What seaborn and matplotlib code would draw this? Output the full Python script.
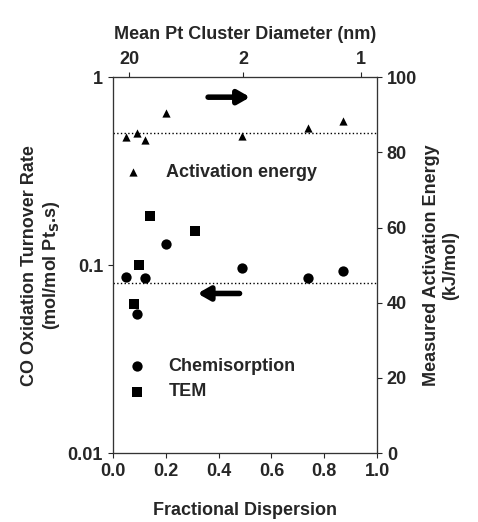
import numpy as np
import matplotlib
matplotlib.use("Agg")
import matplotlib.pyplot as plt
import seaborn as sns

sns.set_style("ticks")
plt.rcParams["font.family"] = ["Liberation Sans", "DejaVu Sans"]
plt.rcParams["font.weight"] = "bold"

# activation energy (right axis, kJ/mol)
ea_x = [0.05, 0.09, 0.12, 0.20, 0.49, 0.74, 0.87]
ea_y = [84.2, 85.3, 83.4, 90.4, 84.4, 86.4, 88.4]
# turnover rate, chemisorption (left axis)
chem_x = [0.05, 0.09, 0.12, 0.20, 0.49, 0.74, 0.87]
chem_y = [0.0867, 0.0552, 0.0854, 0.129, 0.0964, 0.0854, 0.0926]
# turnover rate, TEM
tem_x = [0.08, 0.10, 0.14, 0.31]
tem_y = [0.062, 0.100, 0.183, 0.152]
top_pos = [0.063, 0.494, 0.938]
top_lab = ["20", "2", "1"]

mk = dict(color="black", edgecolor="black", linewidth=0)
arrow = dict(arrowstyle="-|>,head_length=0.7,head_width=0.4", color="black", lw=4)

fig = plt.figure(figsize=(4.78, 5.22), dpi=100)
ax = fig.add_axes([0.236, 0.132, 0.553, 0.72])
ax.set_yscale("log")
ax.set_ylim(0.01, 1)
ax.set_xlim(0, 1)
sns.scatterplot(x=chem_x, y=chem_y, marker="o", s=55, ax=ax, zorder=3, **mk)
sns.scatterplot(x=tem_x, y=tem_y, marker="s", s=45, ax=ax, zorder=3, **mk)
ax.axhline(0.0805, color="black", ls=":", lw=1)
ax.annotate("", xy=(0.31, 0.0707), xytext=(0.49, 0.0707), arrowprops=arrow)
ax.scatter([0.09], [0.0289], marker="o", s=55, **mk)
ax.scatter([0.09], [0.0212], marker="s", s=45, **mk)
ax.text(0.21, 0.0289, "Chemisorption", va="center", fontsize=13, fontweight="bold")
ax.text(0.21, 0.0212, "TEM", va="center", fontsize=13, fontweight="bold")
ax.set_yticks([0.01, 0.1, 1])
ax.set_yticklabels(["0.01", "0.1", "1"])
ax.minorticks_off()
ax.set_xticks(np.arange(0, 1.01, 0.2))
ax.set_xticklabels([f"{v:.1f}" for v in np.arange(0, 1.01, 0.2)])
ax.set_xlabel("Fractional Dispersion", fontsize=13, fontweight="bold", labelpad=16)
ax.set_ylabel("CO Oxidation Turnover Rate\n(mol/mol Pt$_\\mathbf{S}$.s)", fontsize=13, fontweight="bold")
ax.tick_params(labelsize=13)

ax2 = ax.twinx()
ax2.set_ylim(0, 100)
sns.scatterplot(x=ea_x, y=ea_y, marker="^", s=35, ax=ax2, zorder=3, **mk)
ax2.axhline(85.2, color="black", ls=":", lw=1)
ax2.annotate("", xy=(0.53, 94.7), xytext=(0.35, 94.7), arrowprops=arrow)
ax2.scatter([0.078], [74.7], marker="^", s=35, **mk)
ax2.text(0.2, 74.7, "Activation energy", va="center", fontsize=13, fontweight="bold")
ax2.set_yticks(range(0, 101, 20))
ax2.set_ylabel("Measured Activation Energy\n(kJ/mol)", fontsize=13, fontweight="bold")
ax2.tick_params(labelsize=13)

ax3 = ax.twiny()
ax3.set_xlim(0, 1)
ax3.set_xticks(top_pos)
ax3.set_xticklabels(top_lab)
ax3.set_xlabel("Mean Pt Cluster Diameter (nm)", fontsize=13, fontweight="bold", labelpad=8)
ax3.tick_params(labelsize=13)

for a in (ax, ax2, ax3):
    for s in a.spines.values():
        s.set_color("#333333")

fig.savefig("out.png", dpi=100)
